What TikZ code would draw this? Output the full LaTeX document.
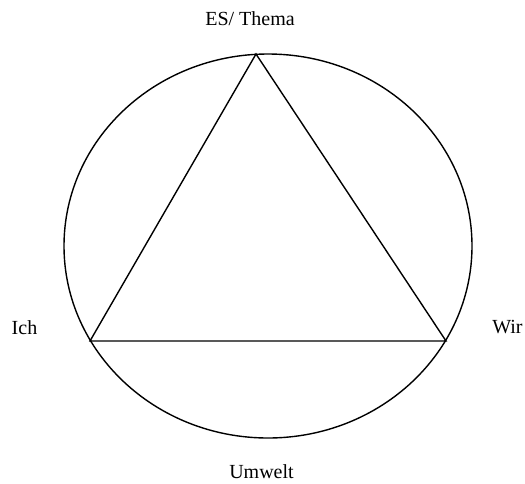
\documentclass[tikz,border=0pt]{standalone}
\usepackage{fontspec}
\setmainfont{Liberation Serif}
\usetikzlibrary{shapes.geometric}
\begin{document}
\begin{tikzpicture}[x=1pt,y=-1pt,
  lbl/.style={font=\fontsize{20}{24}\selectfont, inner sep=0pt, anchor=base},
  edge/.style={line width=1.4pt, line join=miter}]
\useasboundingbox (0,0) rectangle (525,483);
\node[draw, line width=1.4pt, ellipse, minimum width=408pt, minimum height=384pt, inner sep=0pt] (circ) at (268,246) {};
\coordinate (top) at (256,54);
\coordinate (left) at (90,341);
\coordinate (right) at (446,341);
\draw[edge] (top) -- (left) -- (right) -- cycle;
\node[lbl] (es) at (250,25) {ES/ Thema};
\node[lbl] (ich) at (24.5,334) {Ich};
\node[lbl] (wir) at (507.5,333) {Wir};
\node[lbl] (um) at (261.5,478) {Umwelt};
\end{tikzpicture}
\end{document}
